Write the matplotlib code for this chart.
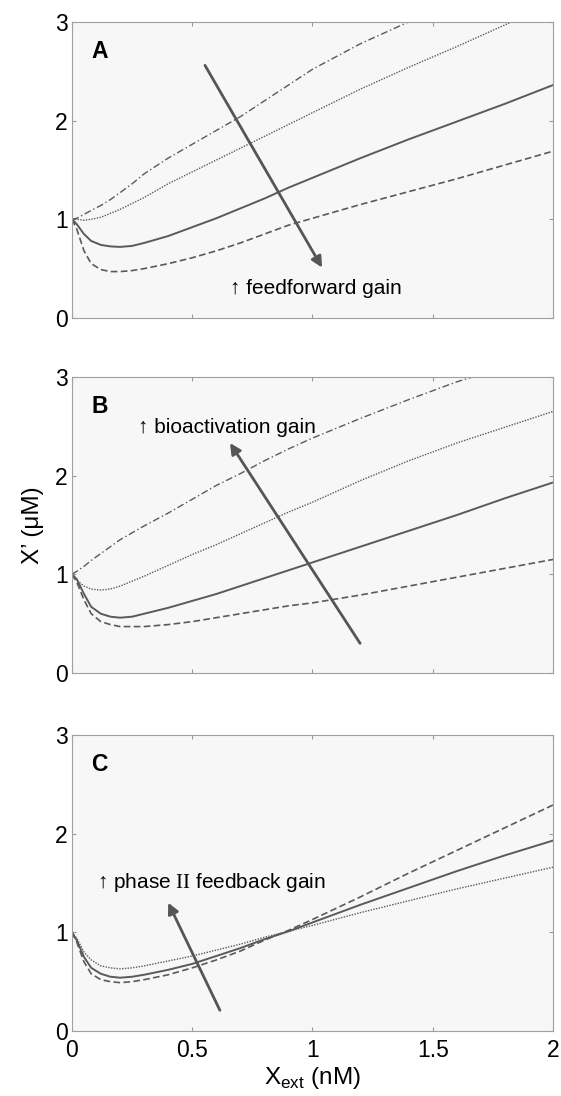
import numpy as np
import matplotlib
matplotlib.use("Agg")
import matplotlib.pyplot as plt

plt.rcParams['font.family'] = ['Liberation Sans', 'DejaVu Sans']
plt.rcParams['mathtext.fontset'] = 'custom'
plt.rcParams['mathtext.rm'] = 'Liberation Serif'

# common x grid (nM)
x = [0, 0.02, 0.05, 0.08, 0.12, 0.16, 0.2, 0.25, 0.3, 0.4, 0.5, 0.6, 0.7,
     0.8, 0.9, 1.0, 1.2, 1.4, 1.6, 1.8, 2.0]

# panel A - feedforward gain
a_dashdot = [1.0, 1.01, 1.05, 1.09, 1.14, 1.2, 1.27, 1.36, 1.46, 1.62, 1.76, 1.9, 2.04,
             2.2, 2.36, 2.52, 2.78, 3.0, 3.24, 3.5, 3.75]
a_dotted = [1.0, 1.0, 0.99, 1.0, 1.02, 1.06, 1.1, 1.16, 1.22, 1.36, 1.48, 1.6, 1.72,
            1.84, 1.96, 2.08, 2.32, 2.54, 2.75, 2.97, 3.18]
a_solid = [1.0, 0.95, 0.85, 0.78, 0.74, 0.725, 0.72, 0.73, 0.76, 0.83, 0.92, 1.01, 1.11,
           1.21, 1.32, 1.42, 1.62, 1.81, 1.99, 2.17, 2.36]
a_dashed = [1.0, 0.9, 0.68, 0.55, 0.49, 0.47, 0.47, 0.48, 0.5, 0.55, 0.61, 0.68, 0.76,
            0.85, 0.94, 1.01, 1.15, 1.28, 1.41, 1.55, 1.69]

# panel B - bioactivation gain
b_dashdot = [1.0, 1.03, 1.08, 1.14, 1.21, 1.28, 1.35, 1.42, 1.49, 1.62, 1.76, 1.9, 2.02,
             2.15, 2.27, 2.38, 2.58, 2.77, 2.95, 3.1, 3.25]
b_dotted = [1.0, 0.94, 0.88, 0.85, 0.84, 0.85, 0.88, 0.93, 0.98, 1.09, 1.2, 1.3, 1.41,
            1.52, 1.63, 1.73, 1.95, 2.15, 2.33, 2.49, 2.65]
b_solid = [1.0, 0.95, 0.8, 0.67, 0.6, 0.57, 0.56, 0.57, 0.6, 0.66, 0.73, 0.8, 0.88,
           0.96, 1.04, 1.12, 1.28, 1.44, 1.6, 1.77, 1.93]
b_dashed = [1.0, 0.92, 0.74, 0.6, 0.52, 0.49, 0.47, 0.47, 0.47, 0.49, 0.52, 0.56, 0.6,
            0.64, 0.68, 0.71, 0.79, 0.88, 0.97, 1.06, 1.15]

# panel C - phase II feedback gain
c_dotted = [1.0, 0.94, 0.8, 0.72, 0.66, 0.64, 0.63, 0.64, 0.66, 0.71, 0.76, 0.82, 0.88,
            0.95, 1.01, 1.07, 1.2, 1.32, 1.44, 1.55, 1.66]
c_solid = [1.0, 0.92, 0.75, 0.64, 0.58, 0.55, 0.54, 0.55, 0.57, 0.62, 0.68, 0.76, 0.84,
           0.93, 1.01, 1.1, 1.28, 1.45, 1.62, 1.78, 1.93]
c_dashed = [1.0, 0.9, 0.7, 0.58, 0.52, 0.5, 0.49, 0.5, 0.52, 0.57, 0.64, 0.72, 0.81,
            0.92, 1.02, 1.13, 1.36, 1.6, 1.83, 2.06, 2.29]

gray = '#5a5a5a'
styles = {
    'dashdot': dict(ls=(0, (5, 2, 1, 2)), lw=1.0),
    'dotted': dict(ls=(0, (1, 1)), lw=1.0),
    'solid': dict(ls='-', lw=1.4),
    'dashed': dict(ls=(0, (4, 2)), lw=1.2),
}

panels = [
    ('A', [('dashdot', a_dashdot), ('dotted', a_dotted), ('solid', a_solid), ('dashed', a_dashed)],
     (0.553, 2.56), (1.04, 0.51), (0.657, 0.30), '\u2191 feedforward gain'),
    ('B', [('dashdot', b_dashdot), ('dotted', b_dotted), ('solid', b_solid), ('dashed', b_dashed)],
     (1.198, 0.30), (0.657, 2.33), (0.275, 2.49), '\u2191 bioactivation gain'),
    ('C', [('dotted', c_dotted), ('solid', c_solid), ('dashed', c_dashed)],
     (0.615, 0.21), (0.40, 1.30), (0.104, 1.51), r'\u2191 phase $\mathrm{II}$ feedback gain'),
]

fig = plt.figure(figsize=(5.61, 10.96), dpi=100)
bottoms = [0.7099, 0.3860, 0.0593]

for (letter, curves, a_start, a_end, t_pos, label), b in zip(panels, bottoms):
    ax = fig.add_axes([0.1283, b, 0.8574, 0.2701])
    ax.set_facecolor('#f7f7f7')
    for kind, y in curves:
        ax.plot(x, y, color=gray, **styles[kind])
    ax.annotate('', xy=a_end, xytext=a_start,
                arrowprops=dict(arrowstyle='-|>', color='#555555', lw=2,
                                mutation_scale=16, shrinkA=0, shrinkB=0))
    ax.text(t_pos[0], t_pos[1], label.replace('\\u2191', '\u2191'),
            fontsize=15, va='center', ha='left')
    ax.text(0.08, 2.7, letter, fontsize=16.5, fontweight='bold', va='center', ha='left')
    ax.set_xlim(0, 2)
    ax.set_ylim(0, 3)
    ax.set_xticks([0, 0.5, 1, 1.5, 2])
    ax.set_yticks([0, 1, 2, 3])
    ax.tick_params(direction='in', length=3, color='#999999', top=True, right=True,
                   labelsize=16.5, pad=3)
    ax.tick_params(axis='x', pad=6)
    for s in ax.spines.values():
        s.set_color('#a0a0a0')
    if letter != 'C':
        ax.set_xticklabels([])
    else:
        ax.set_xticklabels(['0', '0.5', '1', '1.5', '2'])
        ax.set_xlabel(r'X$_{\mathregular{ext}}$ (nM)', fontsize=17.5, labelpad=2)
    if letter == 'B':
        ax.set_ylabel('X\u2019 (\u03bcM)', fontsize=17.5, labelpad=8)

fig.savefig('out.png', dpi=100)
